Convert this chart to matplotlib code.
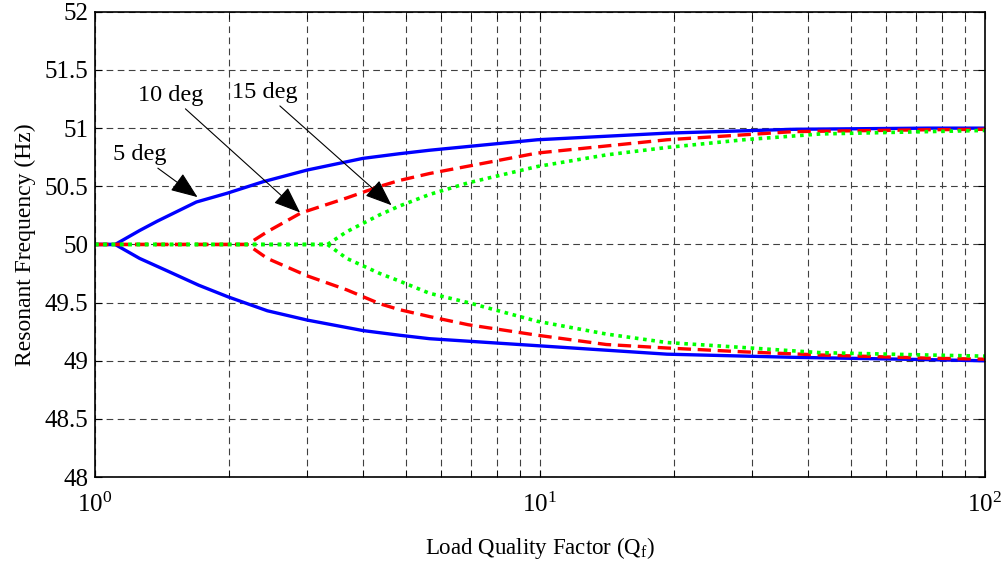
import matplotlib.pyplot as plt
from matplotlib.ticker import LogLocator, NullFormatter

plt.rcParams["font.family"] = "Liberation Serif"
plt.rcParams["mathtext.fontset"] = "custom"
plt.rcParams["mathtext.rm"] = "Liberation Serif"
plt.rcParams["mathtext.it"] = "Liberation Serif:italic"

# 5 deg
q5_up = [1, 1.11, 1.26, 1.38, 1.69, 1.98, 2.39, 3.0, 4.0, 4.83, 5.65, 9.86, 19.3, 37.1, 74.3, 100]
f5_up = [50, 50, 50.12, 50.2, 50.365, 50.44, 50.54, 50.64, 50.74, 50.78, 50.81, 50.90, 50.957, 50.99, 51.0, 51.0]
q5_lo = [1, 1.11, 1.26, 1.44, 1.71, 1.99, 2.44, 3.0, 4.0, 4.83, 5.65, 9.86, 19.3, 37.1, 74.3, 100]
f5_lo = [50, 50, 49.88, 49.78, 49.65, 49.55, 49.43, 49.35, 49.26, 49.22, 49.19, 49.13, 49.057, 49.03, 49.01, 49.0]

# 10 deg
q10_up = [1, 2.2, 2.44, 2.9, 3.68, 4.37, 4.83, 5.65, 9.86, 19.3, 37.1, 74.3, 100]
f10_up = [50, 50, 50.11, 50.27, 50.40, 50.50, 50.55, 50.61, 50.786, 50.90, 50.97, 50.986, 50.99]
q10_lo = [1, 2.2, 2.44, 3.0, 3.68, 4.37, 4.83, 5.65, 6.9, 9.86, 14.1, 19.3, 28.7, 42.7, 74.3, 100]
f10_lo = [50, 50, 49.88, 49.73, 49.61, 49.49, 49.44, 49.38, 49.31, 49.22, 49.14, 49.11, 49.077, 49.05, 49.023, 49.014]

# 15 deg
q15_up = [1, 3.33, 3.68, 4.37, 4.83, 5.65, 6.9, 9.86, 14.1, 19.3, 28.7, 42.7, 74.3, 100]
f15_up = [50, 50, 50.11, 50.256, 50.33, 50.43, 50.53, 50.67, 50.77, 50.834, 50.90, 50.95, 50.97, 50.98]
q15_lo = [1, 3.33, 3.68, 4.37, 4.83, 5.65, 6.9, 9.86, 14.1, 19.3, 28.7, 42.7, 74.3, 100]
f15_lo = [50, 50, 49.88, 49.75, 49.686, 49.58, 49.50, 49.34, 49.23, 49.157, 49.114, 49.07, 49.05, 49.04]

fig = plt.figure(figsize=(10.04, 5.62), dpi=100)
ax = fig.add_axes([0.0946, 0.151, 0.8864, 0.828])

blue = dict(color="#0000FF", lw=2.4, ls="-")
red = dict(color="#FF0000", lw=2.4, ls=(0, (4, 2)))
green = dict(color="#00FF00", lw=2.6, ls=(0, (1, 1.3)))

ax.plot(q5_up, f5_up, **blue)
ax.plot(q5_lo, f5_lo, **blue)
ax.plot(q10_up, f10_up, **red)
ax.plot(q10_lo, f10_lo, **red)
ax.plot(q15_up, f15_up, **green)
ax.plot(q15_lo, f15_lo, **green)

ax.set_xscale("log")
ax.set_xlim(1, 100)
ax.set_ylim(48, 52)
ax.set_yticks([48, 48.5, 49, 49.5, 50, 50.5, 51, 51.5, 52])
ax.set_yticklabels(["48", "48.5", "49", "49.5", "50", "50.5", "51", "51.5", "52"])
ax.xaxis.set_minor_locator(LogLocator(base=10, subs=range(2, 10)))
ax.xaxis.set_minor_formatter(NullFormatter())

grid = dict(color="0.25", lw=0.8, ls=(0, (6, 4)))
ax.grid(True, which="major", axis="both", **grid)
ax.grid(True, which="minor", axis="x", **grid)
ax.tick_params(which="both", direction="in", top=True, right=True, labelsize=18, length=5)
ax.tick_params(axis="x", pad=11)
ax.tick_params(axis="y", pad=5)
for s in ax.spines.values():
    s.set_linewidth(1.2)

ax.set_xlabel(r"Load Quality Factor (Q$_\mathrm{f}$)", fontsize=16.5, labelpad=13)
ax.set_ylabel("Resonant Frequency (Hz)", fontsize=17, labelpad=6)

arrow = dict(arrowstyle="-|>,head_length=1.4,head_width=0.55", color="k", lw=0.8,
             shrinkA=0, shrinkB=0, mutation_scale=12)
ax.annotate("5 deg", xy=(1.70, 50.407), xytext=(1.26, 50.77), fontsize=17.5,
            ha="center", va="center", arrowprops=arrow)
ax.annotate("10 deg", xy=(2.89, 50.275), xytext=(1.48, 51.28), fontsize=17.5,
            ha="center", va="center", arrowprops=arrow)
ax.annotate("15 deg", xy=(4.64, 50.337), xytext=(2.41, 51.305), fontsize=17.5,
            ha="center", va="center", arrowprops=arrow)

fig.savefig("out.png", dpi=100)
